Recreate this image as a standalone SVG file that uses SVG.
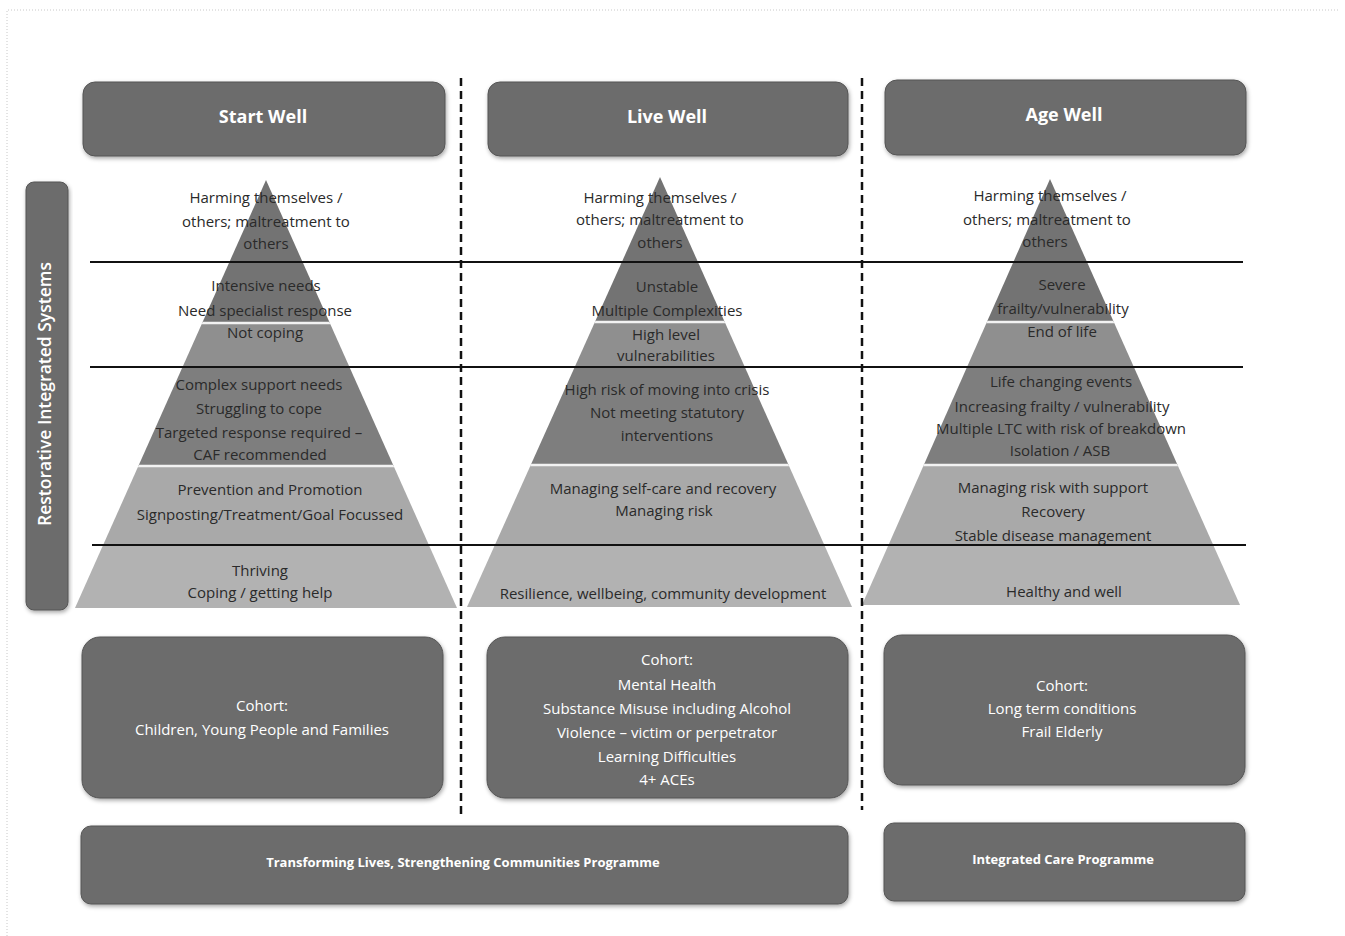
<svg xmlns="http://www.w3.org/2000/svg" width="1345" height="936" viewBox="0 0 1345 936">
<style>
.box{fill:#6c6c6c;stroke:#555;stroke-width:1;filter:url(#sh)}
.hdr{font-family:"Open Sans","Liberation Sans",sans-serif;font-size:18px;font-weight:bold;fill:#fff;text-anchor:middle}
.wt{font-family:"Open Sans","Liberation Sans",sans-serif;font-size:15px;fill:#fff;text-anchor:middle}
.bt{font-family:"Open Sans","Liberation Sans",sans-serif;font-size:13px;font-weight:bold;fill:#fff;text-anchor:middle}
.pt{font-family:"Open Sans","Liberation Sans",sans-serif;font-size:15px;fill:#2a2a2a;text-anchor:middle}
.hl{stroke:#111;stroke-width:2}
.dl{stroke:#111;stroke-width:2.5;stroke-dasharray:8 5;fill:none}
.sep{stroke:#f2f2f2;stroke-width:2.5}
.b1{fill:#737373}.b2{fill:#8f8f8f}.b3{fill:#7e7e7e}.b4{fill:#a9a9a9}.b5{fill:#b2b2b2}
</style>
<defs>
<filter id="sh" x="-10%" y="-10%" width="120%" height="130%">
<feDropShadow dx="1" dy="2" stdDeviation="2" flood-color="#000" flood-opacity="0.35"/>
</filter>
<clipPath id="c1"><polygon points="266,180 75,608 457,608"/></clipPath>
<clipPath id="c2"><polygon points="660,177 467,607 852,607"/></clipPath>
<clipPath id="c3"><polygon points="1050,179 862,605 1240,605"/></clipPath>
</defs>

<rect x="0" y="0" width="1345" height="936" fill="#fff"/>
<polyline points="7,936 7,10 1338,10" fill="none" stroke="#c8c8c8" stroke-width="1" stroke-dasharray="1 2"/>

<!-- Header nodes -->
<g id="start-well">
<rect class="box" x="83" y="82" width="362" height="74" rx="12"/>
<text class="hdr" x="263" y="123">Start Well</text>
</g>
<g id="live-well">
<rect class="box" x="488" y="82" width="360" height="74" rx="12"/>
<text class="hdr" x="667" y="123">Live Well</text>
</g>
<g id="age-well">
<rect class="box" x="885" y="80" width="361" height="75" rx="12"/>
<text class="hdr" x="1064" y="121">Age Well</text>
</g>

<!-- Side bar -->
<g id="restorative">
<rect class="box" x="26" y="182" width="42" height="428" rx="8"/>
<text class="wt" style="font-size:17.5px;font-weight:600" transform="translate(51,394) rotate(-90)" x="0" y="0">Restorative Integrated Systems</text>
</g>

<!-- Pyramid 1 -->
<g id="pyramid-start">
<g clip-path="url(#c1)">
<rect class="b1" x="70" y="175" width="400" height="148"/>
<rect class="b2" x="70" y="323" width="400" height="44"/>
<rect class="b3" x="70" y="367" width="400" height="99"/>
<rect class="b4" x="70" y="466" width="400" height="79"/>
<rect class="b5" x="70" y="545" width="400" height="65"/>
<line class="sep" x1="70" y1="323" x2="470" y2="323"/>
<line class="sep" x1="70" y1="466" x2="470" y2="466"/>
</g>
<text class="pt" x="266" y="203">Harming themselves /</text>
<text class="pt" x="266" y="227">others; maltreatment to</text>
<text class="pt" x="266" y="249">others</text>
<text class="pt" x="266" y="291">Intensive needs</text>
<text class="pt" x="265" y="316">Need specialist response</text>
<text class="pt" x="265" y="338">Not coping</text>
<text class="pt" x="259" y="390">Complex support needs</text>
<text class="pt" x="259" y="414">Struggling to cope</text>
<text class="pt" x="259" y="438">Targeted response required –</text>
<text class="pt" x="260" y="460">CAF recommended</text>
<text class="pt" x="270" y="495">Prevention and Promotion</text>
<text class="pt" x="270" y="520">Signposting/Treatment/Goal Focussed</text>
<text class="pt" x="260" y="576">Thriving</text>
<text class="pt" x="260" y="598">Coping / getting help</text>
</g>

<!-- Pyramid 2 -->
<g id="pyramid-live">
<g clip-path="url(#c2)">
<rect class="b1" x="460" y="172" width="400" height="150"/>
<rect class="b2" x="460" y="322" width="400" height="45"/>
<rect class="b3" x="460" y="367" width="400" height="98"/>
<rect class="b4" x="460" y="465" width="400" height="80"/>
<rect class="b5" x="460" y="545" width="400" height="65"/>
<line class="sep" x1="460" y1="322" x2="860" y2="322"/>
<line class="sep" x1="460" y1="465" x2="860" y2="465"/>
</g>
<text class="pt" x="660" y="203">Harming themselves /</text>
<text class="pt" x="660" y="225">others; maltreatment to</text>
<text class="pt" x="660" y="248">others</text>
<text class="pt" x="667" y="292">Unstable</text>
<text class="pt" x="667" y="316">Multiple Complexities</text>
<text class="pt" x="666" y="340">High level</text>
<text class="pt" x="666" y="361">vulnerabilities</text>
<text class="pt" x="667" y="395">High risk of moving into crisis</text>
<text class="pt" x="667" y="418">Not meeting statutory</text>
<text class="pt" x="667" y="441">interventions</text>
<text class="pt" x="663" y="494">Managing self-care and recovery</text>
<text class="pt" x="664" y="516">Managing risk</text>
<text class="pt" x="663" y="599">Resilience, wellbeing, community development</text>
</g>

<!-- Pyramid 3 -->
<g id="pyramid-age">
<g clip-path="url(#c3)">
<rect class="b1" x="855" y="174" width="400" height="148"/>
<rect class="b2" x="855" y="322" width="400" height="45"/>
<rect class="b3" x="855" y="367" width="400" height="98"/>
<rect class="b4" x="855" y="465" width="400" height="80"/>
<rect class="b5" x="855" y="545" width="400" height="65"/>
<line class="sep" x1="855" y1="322" x2="1255" y2="322"/>
<line class="sep" x1="855" y1="465" x2="1255" y2="465"/>
</g>
<text class="pt" x="1050" y="201">Harming themselves /</text>
<text class="pt" x="1047" y="225">others; maltreatment to</text>
<text class="pt" x="1045" y="247">others</text>
<text class="pt" x="1062" y="290">Severe</text>
<text class="pt" x="1063" y="314">frailty/vulnerability</text>
<text class="pt" x="1062" y="337">End of life</text>
<text class="pt" x="1061" y="387">Life changing events</text>
<text class="pt" x="1062" y="412">Increasing frailty / vulnerability</text>
<text class="pt" x="1061" y="434">Multiple LTC with risk of breakdown</text>
<text class="pt" x="1060" y="456">Isolation / ASB</text>
<text class="pt" x="1053" y="493">Managing risk with support</text>
<text class="pt" x="1053" y="517">Recovery</text>
<text class="pt" x="1053" y="541">Stable disease management</text>
<text class="pt" x="1064" y="597">Healthy and well</text>
</g>

<!-- Connectors / dividers -->
<g id="connectors">
<line class="hl" x1="90" y1="262" x2="1243" y2="262"/>
<line class="hl" x1="90" y1="367" x2="1243" y2="367"/>
<line class="hl" x1="92" y1="545" x2="1246" y2="545"/>
<line class="dl" x1="461" y1="78" x2="461" y2="815"/>
<line class="dl" x1="862" y1="78" x2="862" y2="810"/>
</g>

<!-- Cohort boxes -->
<g id="cohort-start">
<rect class="box" x="82" y="637" width="361" height="161" rx="18"/>
<text class="wt" x="262" y="711">Cohort:</text>
<text class="wt" x="262" y="735">Children, Young People and Families</text>
</g>
<g id="cohort-live">
<rect class="box" x="487" y="637" width="361" height="161" rx="18"/>
<text class="wt" x="667" y="665">Cohort:</text>
<text class="wt" x="667" y="690">Mental Health</text>
<text class="wt" x="667" y="714">Substance Misuse including Alcohol</text>
<text class="wt" x="667" y="738">Violence – victim or perpetrator</text>
<text class="wt" x="667" y="762">Learning Difficulties</text>
<text class="wt" x="667" y="785">4+ ACEs</text>
</g>
<g id="cohort-age">
<rect class="box" x="884" y="635" width="361" height="150" rx="18"/>
<text class="wt" x="1062" y="691">Cohort:</text>
<text class="wt" x="1062" y="714">Long term conditions</text>
<text class="wt" x="1062" y="737">Frail Elderly</text>
</g>

<!-- Programme bars -->
<g id="programme-tlsc">
<rect class="box" x="81" y="826" width="767" height="78" rx="10"/>
<text class="bt" x="463" y="867">Transforming Lives, Strengthening Communities Programme</text>
</g>
<g id="programme-icp">
<rect class="box" x="884" y="823" width="361" height="78" rx="10"/>
<text class="bt" x="1063" y="864">Integrated Care Programme</text>
</g>
</svg>
